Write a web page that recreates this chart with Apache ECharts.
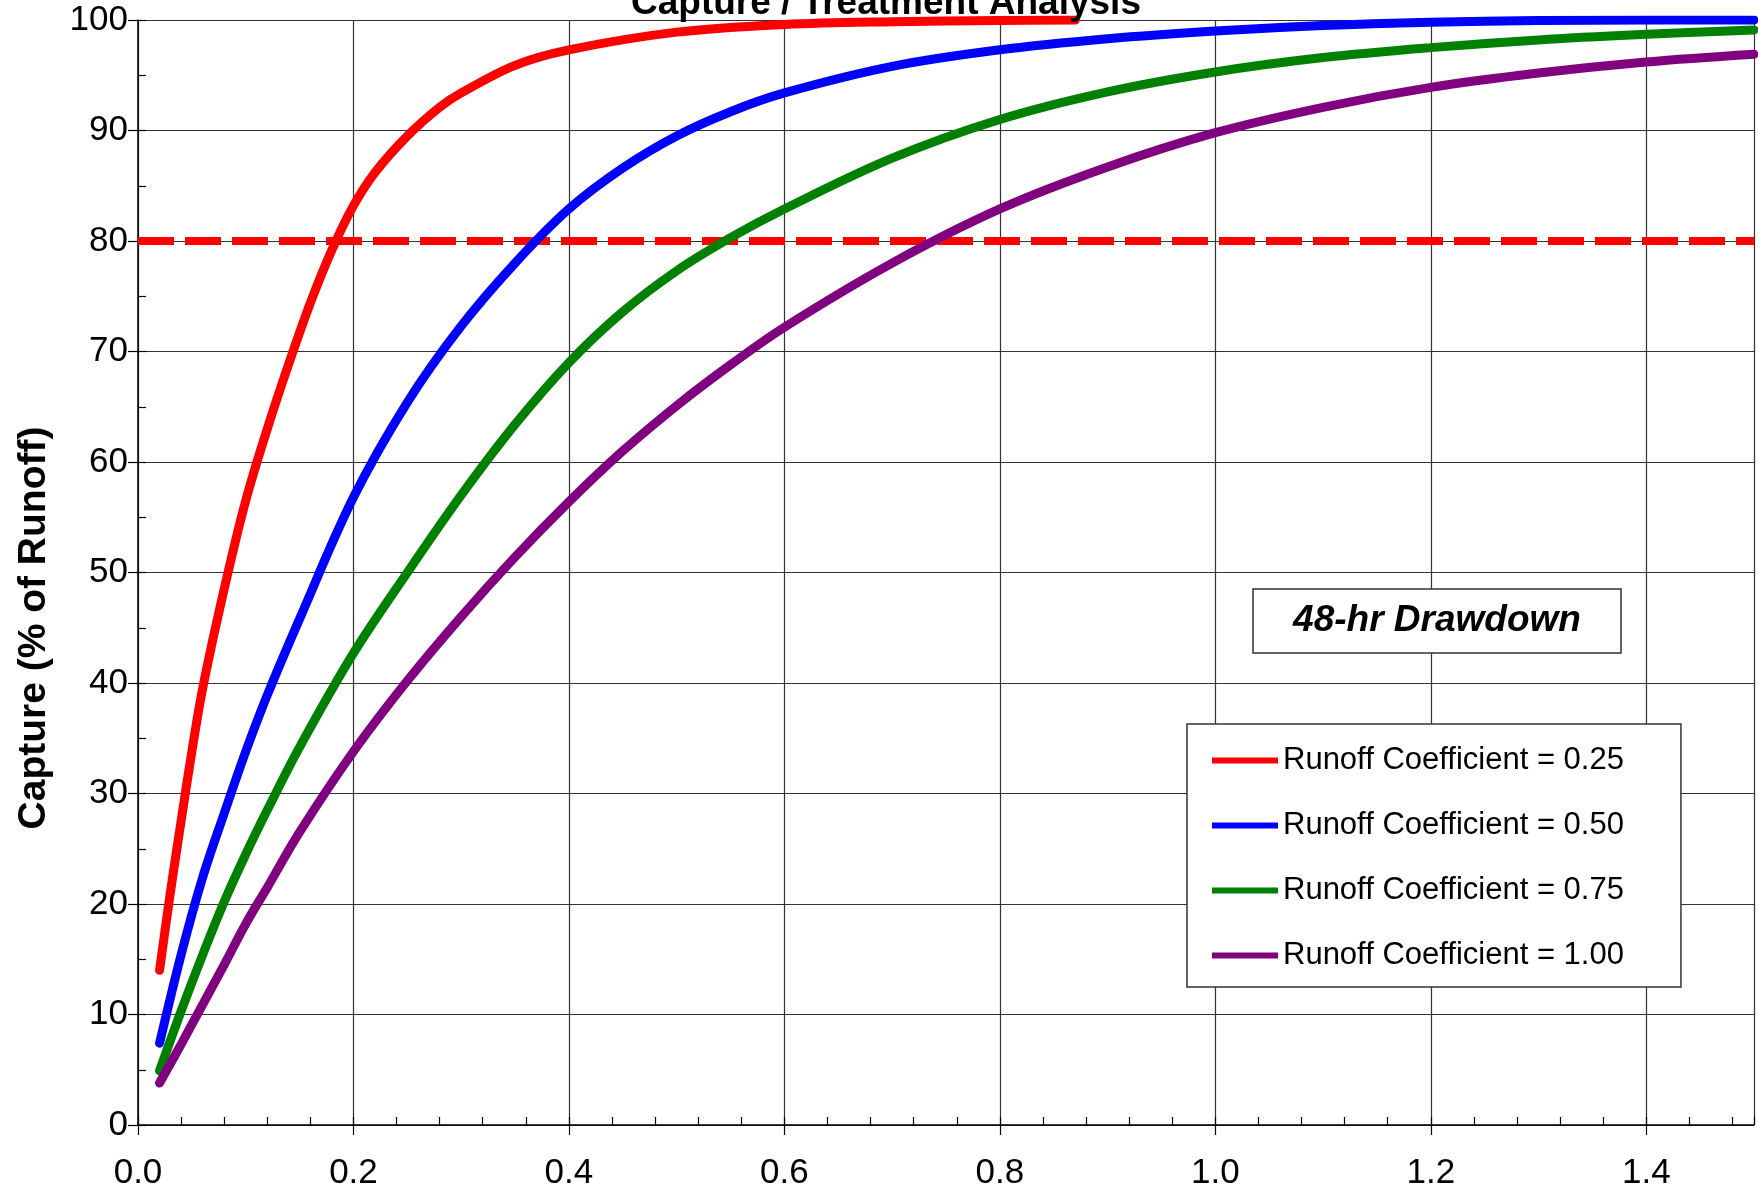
<!DOCTYPE html>
<html>
<head>
<meta charset="utf-8">
<script src="https://cdn.jsdelivr.net/npm/echarts@6/dist/echarts.min.js"></script>
<style>
html,body{margin:0;padding:0;background:#fff;}
#chart{width:1758px;height:1193px;}
</style>
</head>
<body>
<div id="chart"></div>
<script>
// ---- Data ----
const titleText = "Capture / Treatment Analysis";
const yAxisTitle = "Capture (% of Runoff)";
const boxNote = "48-hr Drawdown";
const seriesNames = ["Runoff Coefficient = 0.25", "Runoff Coefficient = 0.50", "Runoff Coefficient = 0.75", "Runoff Coefficient = 1.00"];
const seriesColors = ["#ff0000", "#0000ff", "#008000", "#800080"];

// Red: C = 0.25
const xRed = [0.02,0.03,0.04,0.05,0.06,0.08,0.10,0.12,0.14,0.16,0.18,0.20,0.22,0.25,0.28,0.30,0.35,0.40,0.50,0.60,0.70,0.80,0.87];
const capRed = [14,21.0,27.5,33.8,39.5,48.5,56.5,63.0,68.9,74.4,79.2,83.2,86.2,89.5,92.1,93.4,95.9,97.3,98.9,99.6,99.85,99.95,100];

// Blue, green, purple share the same x positions
const xCommon = [0.02,0.04,0.06,0.08,0.10,0.12,0.15,0.20,0.25,0.30,0.35,0.40,0.45,0.50,0.55,0.60,0.70,0.80,0.90,1.00,1.10,1.20,1.30,1.40,1.50];
const capBlue = [7.4,15.4,22.4,28.2,33.8,38.9,45.8,56.8,65.4,72.3,78.0,82.9,86.6,89.5,91.7,93.4,95.8,97.3,98.3,99.0,99.5,99.8,99.95,100,100];
const capGreen = [4.9,10.3,15.4,20.2,24.5,28.5,34.2,42.7,50.0,57.0,63.4,69.0,73.6,77.3,80.3,82.9,87.5,91.0,93.5,95.3,96.6,97.5,98.2,98.7,99.1];
const capPurple = [3.8,7.3,10.9,14.5,18.2,21.5,26.5,33.8,40.2,46.0,51.4,56.4,61.0,65.1,68.8,72.2,78.0,82.9,86.7,89.8,92.1,93.9,95.2,96.2,96.9];

// Target line
const targetX = [0, 1.5];
const targetY = [80, 80];

// Axis ranges / ticks
const xMin = 0, xMax = 1.5, xMajor = 0.2, xMinor = 0.04;
const yMin = 0, yMax = 100, yMajor = 10, yMinor = 5;

// ---- Chart ----
const FONT = '"Liberation Sans", Arial, "DejaVu Sans", sans-serif';
const zip = (xs, ys) => xs.map((x, i) => [x, ys[i]]);
const curves = [zip(xRed, capRed), zip(xCommon, capBlue), zip(xCommon, capGreen), zip(xCommon, capPurple)];

const chart = echarts.init(document.getElementById('chart'), null, {renderer: 'canvas'});

const curveSeries = curves.map((d, i) => ({
  name: seriesNames[i],
  type: 'line',
  data: d,
  xAxisIndex: 0,
  yAxisIndex: 0,
  symbol: 'none',
  smooth: 0.35,
  color: seriesColors[i],
  lineStyle: {color: seriesColors[i], width: 9, cap: 'round', join: 'round'},
  emphasis: {disabled: true},
  z: 3 + i
}));

const option = {
  animation: false,
  backgroundColor: '#ffffff',
  textStyle: {fontFamily: FONT},
  grid: {left: 138, right: 4, top: 20, bottom: 68, containLabel: false},
  xAxis: [
    {
      type: 'value', min: xMin, max: xMax, interval: xMajor, position: 'bottom',
      axisLine: {show: true, onZero: false, lineStyle: {color: '#000', width: 1.5}},
      axisTick: {show: true, inside: false, length: 10, lineStyle: {color: '#000', width: 1.2}},
      axisLabel: {show: true, fontSize: 35, color: '#000', margin: 31, fontFamily: FONT,
                  showMaxLabel: false, formatter: v => v.toFixed(1)},
      splitLine: {show: true, lineStyle: {color: '#333', width: 1.2}}
    },
    {
      type: 'value', min: xMin, max: xMax, interval: xMinor, position: 'bottom',
      axisLine: {show: false},
      axisTick: {show: true, inside: true, length: 8, lineStyle: {color: '#000', width: 1.2}},
      axisLabel: {show: false},
      splitLine: {show: false}
    }
  ],
  yAxis: [
    {
      type: 'value', min: yMin, max: yMax, interval: yMajor, position: 'left',
      axisLine: {show: true, onZero: false, lineStyle: {color: '#000', width: 1.5}},
      axisTick: {show: true, inside: false, length: 10, lineStyle: {color: '#000', width: 1.2}},
      axisLabel: {show: true, fontSize: 35, color: '#000', margin: 10, fontFamily: FONT},
      splitLine: {show: true, lineStyle: {color: '#333', width: 1.2}}
    },
    {
      type: 'value', min: yMin, max: yMax, interval: yMinor, position: 'left',
      axisLine: {show: false},
      axisTick: {show: true, inside: true, length: 8, lineStyle: {color: '#000', width: 1.2}},
      axisLabel: {show: false},
      splitLine: {show: false}
    }
  ],
  legend: {
    data: seriesNames.map(n => ({name: n, icon: 'rect'})),
    orient: 'vertical',
    left: 1187,
    top: 724,
    padding: [21, 57, 16, 25],
    itemGap: 34,
    itemWidth: 66,
    itemHeight: 6,
    backgroundColor: '#ffffff',
    borderColor: '#333',
    borderWidth: 1.5,
    borderRadius: 0,
    textStyle: {fontSize: 31, color: '#000', fontFamily: FONT},
    selectedMode: false,
    z: 10
  },
  graphic: [
    {
      type: 'text', x: 886, y: 22, z: 20,
      style: {text: titleText, font: 'bold 37px ' + FONT, fill: '#000', textAlign: 'center', textVerticalAlign: 'bottom'}
    },
    {
      type: 'text', x: 34, y: 628, rotation: Math.PI / 2, z: 20,
      style: {text: yAxisTitle, font: 'bold 39px ' + FONT, fill: '#000', textAlign: 'center', textVerticalAlign: 'middle'}
    },
    {
      type: 'rect', z: 20,
      shape: {x: 1253, y: 589, width: 368, height: 64},
      style: {fill: '#ffffff', stroke: '#333', lineWidth: 1.5}
    },
    {
      type: 'text', x: 1437, y: 621, z: 21,
      style: {text: boxNote, font: 'italic bold 37px ' + FONT, fill: '#000', textAlign: 'center', textVerticalAlign: 'middle'}
    }
  ],
  series: [
    {
      name: 'target',
      type: 'line',
      data: zip(targetX, targetY),
      xAxisIndex: 0, yAxisIndex: 0,
      symbol: 'none',
      lineStyle: {color: '#ff0000', width: 8, type: [36, 11]},
      emphasis: {disabled: true},
      z: 2
    }
  ].concat(curveSeries)
};

chart.setOption(option);
</script>
</body>
</html>
